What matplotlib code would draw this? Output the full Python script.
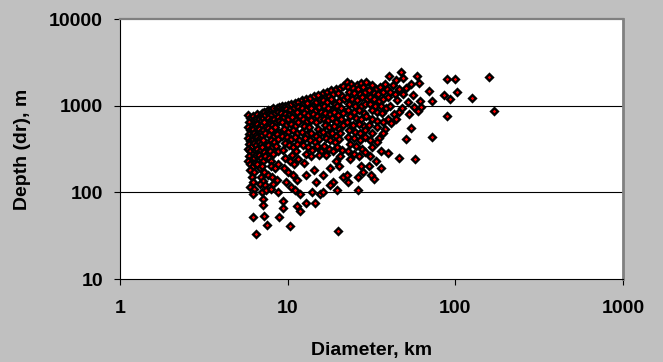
import matplotlib
matplotlib.use("Agg")
import matplotlib.pyplot as plt
from matplotlib.ticker import FixedLocator, FixedFormatter, NullLocator

# ---- data: (diameter km, depth m), grouped by diameter band ----
band_6 = [(5.8, 780), (6.0, 720), (6.2, 750), (5.9, 650), (6.1, 600), (6.3, 680), (5.8, 560),
          (6.0, 520), (6.2, 540), (6.4, 610), (5.9, 470), (6.1, 450), (6.3, 490), (5.8, 420),
          (6.0, 390), (6.2, 410), (6.4, 430), (5.9, 360), (6.1, 340), (6.3, 370), (5.8, 320),
          (6.0, 300), (6.2, 280), (6.4, 310), (5.9, 260), (6.1, 240), (6.3, 250), (5.8, 230),
          (6.0, 210), (6.2, 200), (6.4, 220), (6.0, 180), (6.3, 170), (6.1, 150), (6.2, 130),
          (6.0, 115), (6.3, 110), (6.5, 580), (6.5, 460), (6.5, 350), (6.5, 700), (6.5, 270),
          (6.2, 52), (6.45, 33), (6.25, 96)]
band_7 = [(6.6, 800), (6.8, 760), (7.0, 820), (7.2, 850), (6.7, 700), (6.9, 660), (7.1, 720),
          (7.3, 780), (6.6, 620), (6.8, 580), (7.0, 600), (7.2, 640), (6.7, 540), (6.9, 500),
          (7.1, 520), (7.4, 560), (6.6, 440), (6.8, 420), (7.0, 460), (7.3, 480), (6.7, 380),
          (6.9, 360), (7.1, 400), (7.4, 340), (6.6, 320), (6.8, 300), (7.0, 330), (7.2, 290),
          (6.7, 270), (6.9, 250), (7.1, 230), (7.3, 260), (6.6, 210), (6.8, 190), (7.0, 200),
          (7.2, 170), (6.9, 150), (7.1, 135), (6.8, 125), (7.3, 120), (7.1, 84), (7.15, 72),
          (7.2, 54), (7.55, 42), (7.0, 100), (7.4, 105)]
band_8 = [(7.6, 880), (7.9, 900), (8.2, 930), (8.6, 950), (8.9, 960), (7.7, 800), (8.0, 780),
          (8.4, 820), (8.8, 850), (7.6, 720), (7.9, 690), (8.3, 700), (8.7, 740), (7.8, 620),
          (8.1, 600), (8.5, 640), (8.9, 660), (7.6, 550), (8.0, 520), (8.4, 560), (8.8, 500),
          (7.7, 460), (8.2, 440), (8.6, 470), (7.9, 400), (8.3, 380), (8.8, 410), (7.6, 350),
          (8.1, 330), (8.5, 340), (7.8, 300), (8.2, 280), (8.7, 300), (7.7, 250), (8.0, 230),
          (7.9, 200), (8.4, 190), (8.8, 210), (7.6, 160), (8.1, 150), (8.6, 140),
          (7.9, 110), (8.8, 100), (8.2, 125), (9.4, 79), (9.4, 66), (8.85, 52)]
band_10 = [(9.2, 980), (9.6, 1000), (10.0, 1030), (10.5, 1050), (11.0, 1080), (11.6, 1110),
           (9.3, 900), (9.8, 920), (10.3, 880), (10.9, 940), (11.5, 960), (9.1, 820), (9.7, 800),
           (10.2, 780), (10.8, 830), (11.4, 850), (9.4, 720), (10.0, 700), (10.6, 740),
           (11.2, 680), (11.8, 760), (9.2, 640), (9.8, 600), (10.4, 620), (11.0, 580),
           (11.6, 640), (9.5, 540), (10.1, 500), (10.7, 520), (11.3, 480), (9.3, 450),
           (9.9, 430), (10.5, 410), (11.1, 440), (11.7, 400), (9.6, 370), (10.2, 350),
           (10.8, 330), (11.4, 360), (9.4, 310), (10.6, 270), (11.2, 300),
           (9.7, 250), (10.3, 230), (10.9, 210), (11.5, 240), (9.5, 190), (10.1, 170),
           (10.8, 160), (11.3, 140), (9.8, 130), (10.4, 115), (11.0, 105), (11.8, 95),
           (10.3, 41), (11.3, 70), (11.9, 61)]
band_14 = [(12.2, 1150), (12.8, 1200), (13.5, 1230), (14.3, 1280), (15.2, 1320), (12.4, 1050),
           (13.1, 1080), (13.9, 1000), (14.8, 1100), (15.6, 1150), (12.1, 950), (12.9, 900),
           (13.7, 930), (14.6, 870), (15.4, 960), (12.5, 820), (13.3, 780), (14.1, 800),
           (15.0, 760), (15.8, 840), (12.3, 700), (13.0, 660), (13.8, 690), (14.7, 640),
           (15.5, 710), (12.6, 590), (13.4, 560), (15.1, 540), (12.2, 500),
           (13.0, 470), (13.8, 490), (14.7, 450), (15.6, 480), (12.7, 420), (13.6, 400),
           (14.5, 380), (15.3, 410), (12.4, 350), (13.2, 330), (14.0, 310), (14.9, 340),
           (15.7, 300), (12.8, 280), (13.7, 260), (15.4, 270), (12.5, 220),
           (14.3, 180), (12.9, 160), (14.8, 130),
           (12.9, 75), (14.5, 75), (13.9, 100), (15.5, 95)]
band_19 = [(16.3, 1400), (17.2, 1450), (18.2, 1500), (19.3, 1560), (20.5, 1600), (21.5, 1700),
           (16.6, 1250), (17.6, 1300), (18.7, 1350), (19.9, 1400), (21.0, 1300), (16.2, 1150),
           (17.1, 1100), (18.1, 1180), (19.2, 1050), (20.3, 1120), (21.6, 1200), (16.5, 980),
           (17.5, 950), (18.6, 900), (19.7, 1000), (20.9, 940), (16.8, 830), (17.8, 800),
           (18.9, 850), (20.0, 780), (21.3, 820), (16.4, 700), (17.4, 680), (18.4, 720),
           (19.5, 650), (20.7, 700), (16.7, 600), (17.7, 560), (18.8, 580), (20.1, 540),
           (21.4, 600), (16.3, 500), (17.3, 470), (18.3, 480), (19.4, 450), (20.6, 490),
           (16.9, 420), (18.0, 400), (19.1, 380), (20.3, 410), (16.5, 340), (17.6, 320),
           (18.7, 300), (19.8, 330), (21.1, 310), (17.0, 270), (19.4, 230),
           (20.6, 260), (17.8, 190), (20.2, 200), (16.3, 160),
           (18.6, 130), (19.6, 105), (16.3, 100), (20.0, 36), (18.0, 120),
           (21.5, 150)]
band_26 = [(22.5, 1900), (24.0, 1800), (25.8, 1740), (27.5, 1850), (29.3, 1900), (22.8, 1650),
           (24.5, 1600), (26.3, 1550), (28.2, 1650), (23.1, 1450), (25.0, 1400), (26.9, 1350),
           (28.8, 1450), (22.6, 1250), (24.3, 1200), (26.0, 1150), (27.9, 1250), (29.6, 1180),
           (23.3, 1050), (25.2, 1000), (27.2, 980), (29.0, 1050), (22.9, 900), (24.7, 850),
           (26.6, 880), (28.5, 820), (23.5, 750), (25.5, 720), (27.5, 700), (29.4, 760),
           (22.7, 640), (24.6, 600), (26.5, 620), (28.4, 580), (23.2, 530), (25.1, 500),
           (27.1, 480), (29.1, 520), (22.9, 440), (24.9, 420), (26.9, 400), (28.8, 430),
           (23.6, 360), (25.6, 340), (27.6, 320), (22.8, 300), (24.8, 280), (26.8, 260),
           (28.9, 290), (23.4, 240), (27.4, 200), (26.3, 150),
           (28.0, 170), (23.0, 130), (26.3, 105), (22.5, 160)]
band_35 = [(31.7, 1740), (33.6, 1570), (35.5, 1650), (38.0, 1800), (30.5, 1500), (32.6, 1400),
           (34.8, 1350), (37.2, 1450), (39.0, 1550), (31.0, 1250), (32.6, 1180), (35.0, 1120),
           (37.2, 1180), (39.5, 1250), (30.8, 1050), (33.0, 1000), (35.9, 1000), (38.5, 950),
           (31.7, 880), (34.0, 850), (36.5, 820), (31.7, 706), (34.0, 660), (37.2, 645),
           (39.5, 700), (30.5, 600), (34.0, 560), (38.0, 541), (32.0, 480), (37.2, 479),
           (35.0, 420), (30.8, 400), (34.3, 380), (32.0, 330), (36.0, 300), (39.9, 286),
           (31.0, 260), (33.5, 230), (35.9, 190), (32.6, 141), (30.5, 200), (31.5, 160)]
band_50 = [(40.3, 2190), (47.2, 2440), (48.7, 2080), (59.3, 2190), (60.5, 1840), (54.1, 1790),
           (42.6, 1742), (43.8, 1350), (49.0, 1350), (56.2, 1336), (61.6, 1140), (57.0, 970),
           (62.0, 970), (60.2, 859), (46.4, 843), (43.0, 800), (41.5, 635), (54.1, 552),
           (50.7, 415), (57.6, 244), (45.9, 248), (44.0, 2000), (51.0, 1600), (46.0, 1550),
           (41.0, 1450), (45.0, 1150), (52.0, 1100), (41.0, 1000), (48.0, 950), (53.0, 800),
           (44.0, 700)]
band_large = [(69.3, 1490), (72.5, 1140), (72.5, 438), (85.5, 1315), (89.5, 2010), (89.5, 759),
              (92.9, 1200), (99.0, 2030), (102, 1435), (125.6, 1220), (159, 2120), (171, 873)]

bands = [band_6, band_7, band_8, band_10, band_14, band_19, band_26, band_35, band_50, band_large]
diameter_km = [d for b in bands for d, _ in b]
depth_m = [h for b in bands for _, h in b]

x_ticks = [1, 10, 100, 1000]
x_labels = ["1", "10", "100", "1000"]
y_ticks = [10, 100, 1000, 10000]
y_labels = ["10", "100", "1000", "10000"]

plt.rcParams['font.family'] = ['Liberation Sans', 'DejaVu Sans']
plt.rcParams['font.weight'] = 'bold'

W, H = 663, 362
fig = plt.figure(figsize=(W / 100, H / 100), dpi=100)
fig.patch.set_facecolor('#C0C0C0')
ax = fig.add_axes([120 / W, 1 - 279 / H, 503 / W, 260 / H])
ax.set_facecolor('white')

ax.set_xscale('log')
ax.set_yscale('log')
ax.set_xlim(1, 1000)
ax.set_ylim(10, 10000)

for yv in [100, 1000]:
    ax.axhline(yv, color='black', lw=0.8, zorder=1)

ax.plot(diameter_km, depth_m, linestyle='none', marker='D', markersize=3.5,
        markerfacecolor='#FF0000', markeredgecolor='black', markeredgewidth=1.7, zorder=3,
        clip_on=False)

ax.xaxis.set_major_locator(FixedLocator(x_ticks))
ax.xaxis.set_major_formatter(FixedFormatter(x_labels))
ax.yaxis.set_major_locator(FixedLocator(y_ticks))
ax.yaxis.set_major_formatter(FixedFormatter(y_labels))
ax.xaxis.set_minor_locator(NullLocator())
ax.yaxis.set_minor_locator(NullLocator())

ax.tick_params(axis='x', direction='out', length=4.3, width=0.8, pad=11, labelsize=14, colors='black')
ax.tick_params(axis='y', direction='out', length=4.3, width=0.8, pad=8, labelsize=14, colors='black')
for lbl in ax.get_xticklabels() + ax.get_yticklabels():
    lbl.set_fontweight('bold')

ax.spines['left'].set_color('black')
ax.spines['left'].set_linewidth(0.8)
ax.spines['bottom'].set_color('black')
ax.spines['bottom'].set_linewidth(0.8)
ax.spines['top'].set_color('#808080')
ax.spines['top'].set_linewidth(1.6)
ax.spines['right'].set_color('#808080')
ax.spines['right'].set_linewidth(2.0)

ax.set_xlabel('Diameter, km', fontsize=14, fontweight='bold')
ax.set_ylabel('Depth (dr), m', fontsize=14, fontweight='bold')
ax.xaxis.label.set_va('center')
ax.yaxis.label.set_va('center')
ax.xaxis.set_label_coords(0.5, (279 - 350) / 260)
ax.yaxis.set_label_coords((23 - 120) / 503, 0.5)

fig.savefig('out.png', dpi=100, facecolor=fig.get_facecolor())
